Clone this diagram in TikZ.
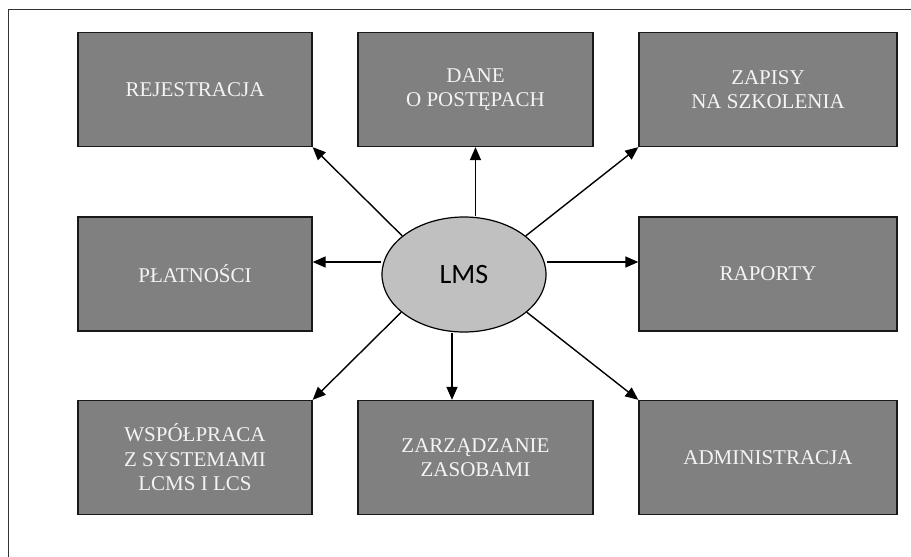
\documentclass[tikz,border=0pt]{standalone}
\usepackage{fontspec}
\setmainfont{Liberation Serif}
\newfontfamily\lmsfont{Carlito}
\usetikzlibrary{arrows.meta,shapes.geometric}
\definecolor{boxgray}{HTML}{808080}
\definecolor{ellgray}{HTML}{C0C0C0}
\definecolor{txtwhite}{HTML}{F4F4F4}
\begin{document}
\begin{tikzpicture}[x=1pt,y=-1pt,
  funcbox/.style={draw=black!90,line width=1.3pt,fill=boxgray,text=txtwhite,
    minimum height=114pt,inner sep=0pt,align=center,
    font=\fontsize{21}{24.5}\selectfont},
  arr/.style={line width=1.4pt,-{Triangle[length=13pt,width=11pt]}},
  framel/.style={line width=0.9pt,draw=black!80}]
\useasboundingbox (0,0) rectangle (911,557);
\coordinate (fbl) at (8,557);
\coordinate (ftl) at (8,9);
\coordinate (ftr) at (911,9);
\draw[framel] (fbl) -- (ftl) -- (ftr);
% boxes
\node[funcbox,minimum width=234pt] (rej) at (195,89.5) {REJESTRACJA};
\node[funcbox,minimum width=235pt] (dane) at (475.5,89.5) {DANE\\O POSTĘPACH};
\node[funcbox,minimum width=258pt] (zap) at (768,89.5) {ZAPISY\\NA SZKOLENIA};
\node[funcbox,minimum width=234pt] (plat) at (195,274) {PŁATNOŚCI};
\node[funcbox,minimum width=258pt] (rap) at (768,274) {RAPORTY};
\node[funcbox,minimum width=234pt] (wsp) at (195,457.5) {WSPÓŁPRACA\\Z SYSTEMAMI\\LCMS I LCS};
\node[funcbox,minimum width=235pt] (zar) at (475.5,457.5) {ZARZĄDZANIE\\ZASOBAMI};
\node[funcbox,minimum width=258pt] (adm) at (768,457.5) {ADMINISTRACJA};
% centre
\node[ellipse,draw=black,line width=1.2pt,fill=ellgray,minimum width=164pt,minimum height=115pt,inner sep=0pt,
  font=\lmsfont\fontsize{28}{30}\selectfont] (lms) at (464,274.5) {LMS};
% arrows
\draw[arr] (lms.148) -- (rej.south east);
\draw[arr] (lms.north -| dane.south) -- (dane.south);
\draw[arr] (lms.32) -- (zap.south west);
\draw[arr] ([yshift=12.5pt]lms.west) -- ([yshift=12.5pt]lms.west -| plat.east);
\draw[arr] ([yshift=12.5pt]lms.east) -- ([yshift=12.5pt]lms.east -| rap.west);
\draw[arr] (lms.211) -- (wsp.north east);
\draw[arr] ([xshift=-12pt]lms.south) -- ([xshift=-12pt]lms.south |- zar.north);
\draw[arr] (lms.329) -- (adm.north west);
\end{tikzpicture}
\end{document}
